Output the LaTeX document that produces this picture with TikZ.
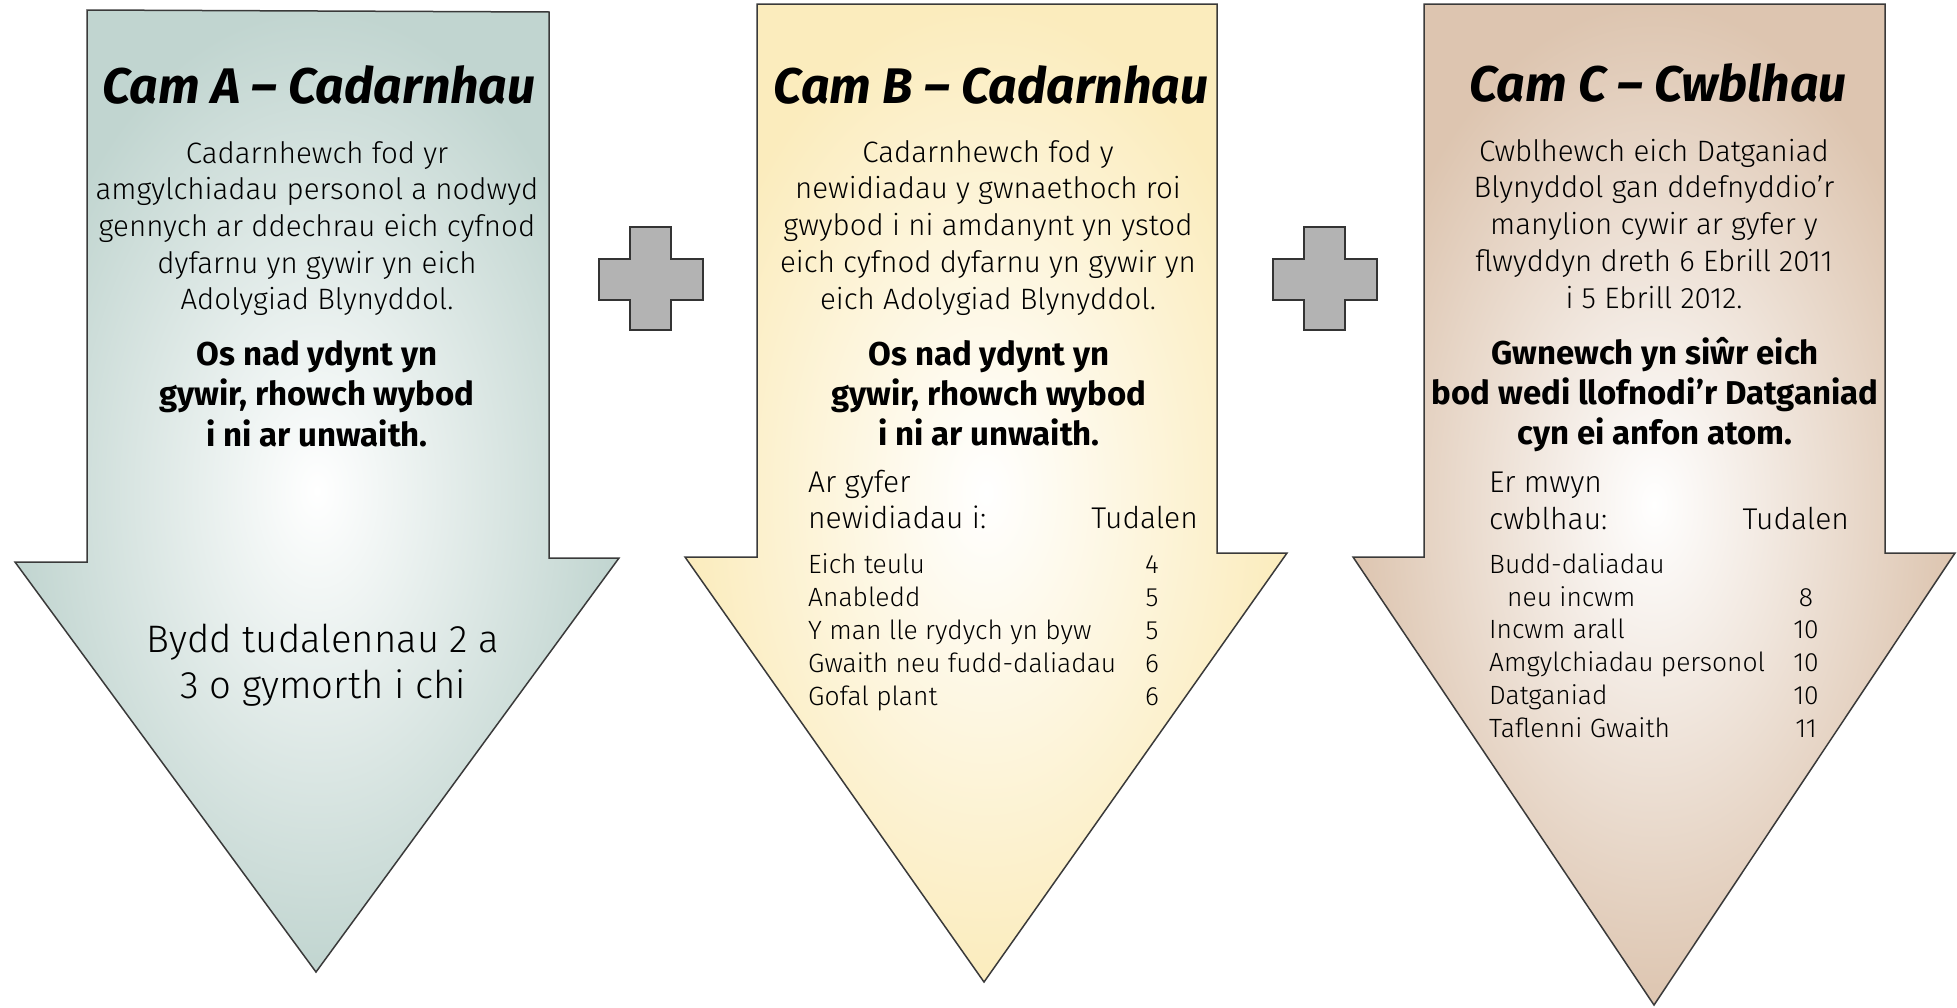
\documentclass[tikz,border=0pt]{standalone}
\usepackage{fontspec}
\setmainfont{Fira Sans}
\newfontfamily\lightfont{Fira Sans Light}
\definecolor{colA}{HTML}{C1D5D0}
\definecolor{colB}{HTML}{FBECBD}
\definecolor{colC}{HTML}{DDC5B0}
\definecolor{edgecol}{HTML}{3A3A3A}
\definecolor{crossfill}{HTML}{B3B3B3}
\tikzset{
  arrowshape/.style={draw=edgecol, line width=1.5pt, inner color=white, outer color=#1},
  crossshape/.style={draw=edgecol!90!black, line width=2pt, fill=crossfill},
  titletext/.style={font=\fontsize{50}{58}\selectfont\bfseries\itshape, anchor=base, inner sep=0pt},
  bodytext/.style={font=\lightfont\fontsize{29.5}{37}\selectfont, anchor=base, inner sep=0pt},
  boldtext/.style={font=\fontsize{33}{40}\selectfont\bfseries, anchor=base, inner sep=0pt},
  bigtext/.style={font=\lightfont\fontsize{38.3}{46}\selectfont, anchor=base, inner sep=0pt},
  headleft/.style={font=\lightfont\fontsize{30}{37}\selectfont, anchor=base west, inner sep=0pt},
  headright/.style={font=\lightfont\fontsize{30}{37}\selectfont, anchor=base east, inner sep=0pt},
  rowleft/.style={font=\lightfont\fontsize{26.4}{33}\selectfont, anchor=base west, inner sep=0pt},
  rownum/.style={font=\lightfont\fontsize{26.4}{33}\selectfont, anchor=base, inner sep=0pt},
}
\begin{document}
\begin{tikzpicture}[x=1pt,y=-1pt]
\useasboundingbox (0,0) rectangle (1957,1007);

% arrows
\shade[arrowshape=colA] (87,10) -- (549,12) -- (549,558) -- (619,558) -- (316,972) -- (15,562) -- (87,562) -- cycle;
\shade[arrowshape=colB] (757,4) -- (1217,4) -- (1217,553) -- (1287,553) -- (984,982) -- (685,557) -- (757,557) -- cycle;
\shade[arrowshape=colC] (1424,4) -- (1885,4) -- (1885,553) -- (1955,553) -- (1654,1005) -- (1353,557) -- (1424,557) -- cycle;

% plus signs
\foreach \dx in {0,674}{
  \begin{scope}[xshift=\dx]
  \draw[crossshape] (630,227) -- (671,227) -- (671,259) -- (703,259) -- (703,300) -- (671,300) -- (671,330) -- (630,330) -- (630,300) -- (599,300) -- (599,259) -- (630,259) -- cycle;
  \end{scope}
}

% ---- Cam A
\node[titletext] (atitle) at (319,103) {Cam A – Cadarnhau};
\foreach \t [count=\i from 0] in {Cadarnhewch fod yr, amgylchiadau personol a nodwyd, gennych ar ddechrau eich cyfnod, dyfarnu yn gywir yn eich, Adolygiad Blynyddol.}
  \node[bodytext] (abody\i) at (317,163+36.7*\i) {\t};
\foreach \t [count=\i from 0] in {Os nad ydynt yn, {gywir, rhowch wybod}, i ni ar unwaith.}
  \node[boldtext] (abold\i) at (317,365+40.5*\i) {\t};
\node[bigtext] (abig0) at (323,652) {Bydd tudalennau 2 a};
\node[bigtext] (abig1) at (323,698) {3 o gymorth i chi};

% ---- Cam B
\node[titletext] (btitle) at (991,103) {Cam B – Cadarnhau};
\foreach \t [count=\i from 0] in {Cadarnhewch fod y, newidiadau y gwnaethoch roi, gwybod i ni amdanynt yn ystod, eich cyfnod dyfarnu yn gywir yn, eich Adolygiad Blynyddol.}
  \node[bodytext] (bbody\i) at (988,162+36.8*\i) {\t};
\foreach \t [count=\i from 0] in {Os nad ydynt yn, {gywir, rhowch wybod}, i ni ar unwaith.}
  \node[boldtext] (bbold\i) at (989,365+40.2*\i) {\t};
\node[headleft] (bh0) at (808,492) {Ar gyfer};
\node[headleft] (bh1) at (808,528) {newidiadau i:};
\node[headright] (bh2) at (1198,528) {Tudalen};
\foreach \t/\n [count=\i from 0] in {Eich teulu/4, Anabledd/5, Y man lle rydych yn byw/5, Gwaith neu fudd-daliadau/6, Gofal plant/6}{
  \node[rowleft] (brow\i) at (808,573+33*\i) {\t};
  \node[rownum] (bnum\i) at (1152,573+33*\i) {\n};
}

% ---- Cam C
\node[titletext] (ctitle) at (1658,101) {Cam C – Cwblhau};
\foreach \t [count=\i from 0] in {Cwblhewch eich Datganiad, Blynyddol gan ddefnyddio’r, manylion cywir ar gyfer y, flwyddyn dreth 6 Ebrill 2011, i 5 Ebrill 2012.}
  \node[bodytext] (cbody\i) at (1654,161+36.8*\i) {\t};
\foreach \t [count=\i from 0] in {Gwnewch yn siŵr eich, bod wedi llofnodi’r Datganiad, cyn ei anfon atom.}
  \node[boldtext] (cbold\i) at (1655,364+40*\i) {\t};
\node[headleft] (ch0) at (1489,492) {Er mwyn};
\node[headleft] (ch1) at (1489,529) {cwblhau:};
\node[headright] (ch2) at (1849,529) {Tudalen};
\node[rowleft] (crow0) at (1489,573) {Budd-daliadau};
\node[rowleft] (crow1) at (1507,606) {neu incwm};
\node[rownum] (cnum1) at (1806,606) {8};
\foreach \t/\n [count=\i from 2] in {Incwm arall/10, Amgylchiadau personol/10, Datganiad/10, Taflenni Gwaith/11}{
  \node[rowleft] (crow\i) at (1489,573+32.8*\i) {\t};
  \node[rownum] (cnum\i) at (1806,573+32.8*\i) {\n};
}
\end{tikzpicture}
\end{document}
